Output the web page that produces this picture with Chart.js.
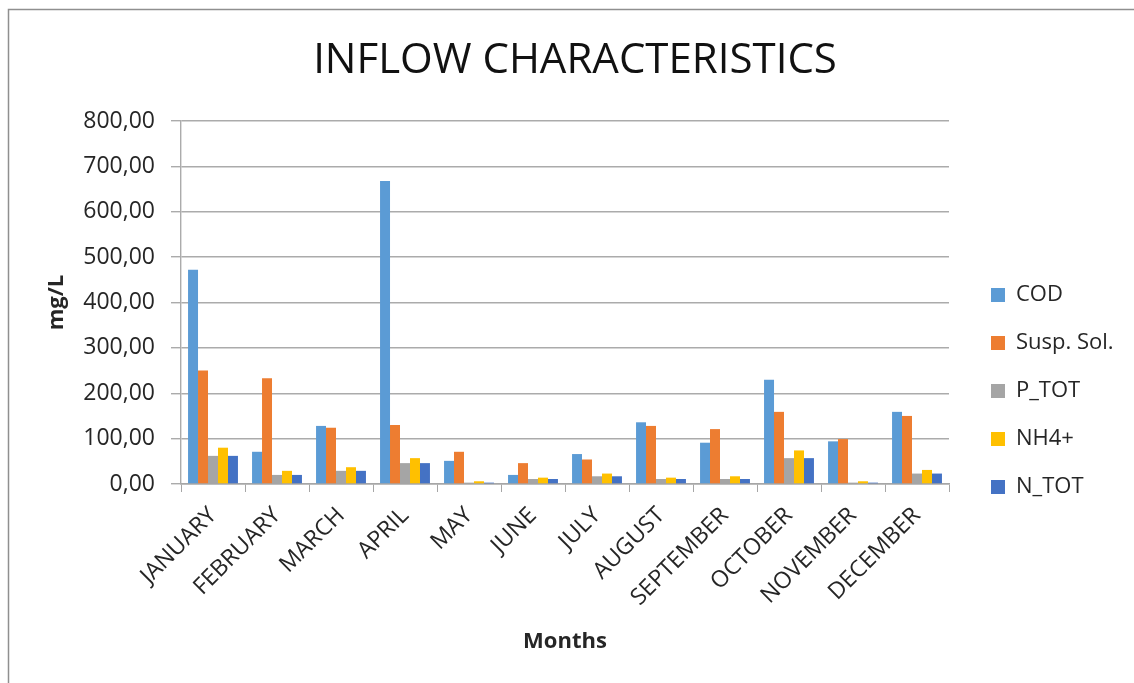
<!DOCTYPE html>
<html>
<head>
<meta charset="utf-8">
<script src="https://cdn.jsdelivr.net/npm/chart.js@4"></script>
<style>
  html, body { margin: 0; padding: 0; background: #fff; }
  #wrap { position: relative; width: 1134px; height: 683px; }
</style>
</head>
<body>
<div id="wrap"><canvas id="c" width="1134" height="683"></canvas></div>
<script>
// Monthly inflow characteristics (mg/L)
const months = ['JANUARY', 'FEBRUARY', 'MARCH', 'APRIL', 'MAY', 'JUNE', 'JULY',
  'AUGUST', 'SEPTEMBER', 'OCTOBER', 'NOVEMBER', 'DECEMBER'];
const cod   = [472, 71, 128, 668, 51, 20, 66, 136, 91, 230, 94, 159];
const suspSol = [250, 233, 124, 130, 71, 46, 54, 128, 121, 159, 99, 150];
const pTot  = [62, 20, 29, 46, 3, 11, 17, 11, 11, 57, 3, 23];
const nh4   = [80, 29, 37, 57, 6, 14, 23, 14, 17, 74, 6, 31];
const nTot  = [62, 20, 29, 46, 3, 11, 17, 11, 11, 57, 3, 23];
const yTicks = [0, 100, 200, 300, 400, 500, 600, 700, 800];

const FONT = "'Open Sans', 'Noto Sans', sans-serif";
const TEXT = '#262626';
const LEGEND_PAD = 26;

const frame = {
  id: 'frame',
  beforeDraw(chart) {
    const ctx = chart.ctx;
    ctx.save();
    ctx.fillStyle = '#fff';
    ctx.fillRect(0, 0, chart.width, chart.height);
    ctx.strokeStyle = '#8f8f8f';
    ctx.lineWidth = 1.5;
    ctx.beginPath();
    ctx.moveTo(8.5, chart.height);
    ctx.lineTo(8.5, 9.5);
    ctx.lineTo(chart.width, 9.5);
    ctx.stroke();
    ctx.restore();
  }
};

// legend sits in a fixed-width column to the right of the plot
const legendPlacer = {
  id: 'legendPlacer',
  beforeUpdate(chart) {
    const lg = chart.legend;
    if (lg && !lg._fixed) {
      const fit = lg.fit.bind(lg);
      lg.fit = function () { fit(); if (!this.isHorizontal()) this.width = 185; };
      lg._fixed = true;
    }
  },
  afterLayout(chart) {
    const lg = chart.legend;
    const w = lg.right - lg.left;
    lg.left = 991 - LEGEND_PAD;
    lg.right = lg.left + w;
    const h = lg.bottom - lg.top;
    lg.top = 258;
    lg.bottom = lg.top + h;
  }
};

const mk = (label, data, color) => ({ label, data, backgroundColor: color, borderWidth: 0 });

new Chart(document.getElementById('c'), {
  type: 'bar',
  data: {
    labels: months,
    datasets: [
      mk('COD', cod, '#5B9BD5'),
      mk('Susp. Sol.', suspSol, '#ED7D31'),
      mk('P_TOT', pTot, '#A5A5A5'),
      mk('NH4+', nh4, '#FFC000'),
      mk('N_TOT', nTot, '#4472C4')
    ]
  },
  options: {
    responsive: false,
    animation: false,
    devicePixelRatio: 1,
    layout: { padding: { left: 16, right: 0, top: 0, bottom: 0 } },
    datasets: { bar: { barPercentage: 1, categoryPercentage: 0.78 } },
    plugins: {
      title: {
        display: true,
        text: 'INFLOW CHARACTERISTICS',
        color: '#111',
        font: { family: FONT, size: 42, weight: 'normal', lineHeight: 1 },
        padding: { top: 40, bottom: 39 }
      },
      legend: {
        position: 'right',
        align: 'start',
        labels: {
          color: TEXT,
          font: { family: FONT, size: 22, lineHeight: 1.2 },
          boxWidth: 14, boxHeight: 14,
          padding: LEGEND_PAD
        }
      },
      tooltip: { enabled: false }
    },
    scales: {
      x: {
        grid: { display: true, drawOnChartArea: false, drawTicks: true, tickLength: 8, color: '#a6a6a6', offset: true },
        border: { display: true, color: '#a6a6a6', width: 1.5 },
        ticks: {
          color: TEXT, font: { family: FONT, size: 23 },
          maxRotation: 45, minRotation: 45, padding: 10, autoSkip: false
        },
        title: {
          display: true, text: 'Months', color: TEXT,
          font: { family: FONT, size: 22, weight: 'bold', lineHeight: 1.2 },
          padding: { top: 0, bottom: 28 }
        },
        afterFit(scale) { scale.height = 199; }
      },
      y: {
        min: 0, max: 800,
        afterBuildTicks(scale) { scale.ticks = yTicks.map(v => ({ value: v })); },
        grid: { color: '#ababab', lineWidth: 1.4, tickLength: 10, drawTicks: true },
        border: { display: true, color: '#ababab', width: 1.4 },
        ticks: {
          color: TEXT, font: { family: FONT, size: 23 }, padding: 16,
          callback: v => v.toFixed(2).replace('.', ',')
        },
        title: {
          display: true, text: 'mg/L', color: TEXT,
          font: { family: FONT, size: 22, weight: 'bold', lineHeight: 1.2 },
          padding: { top: 28, bottom: 0 }
        },
        afterFit(scale) { scale.width = 165; }
      }
    }
  },
  plugins: [frame, legendPlacer]
});
</script>
</body>
</html>
